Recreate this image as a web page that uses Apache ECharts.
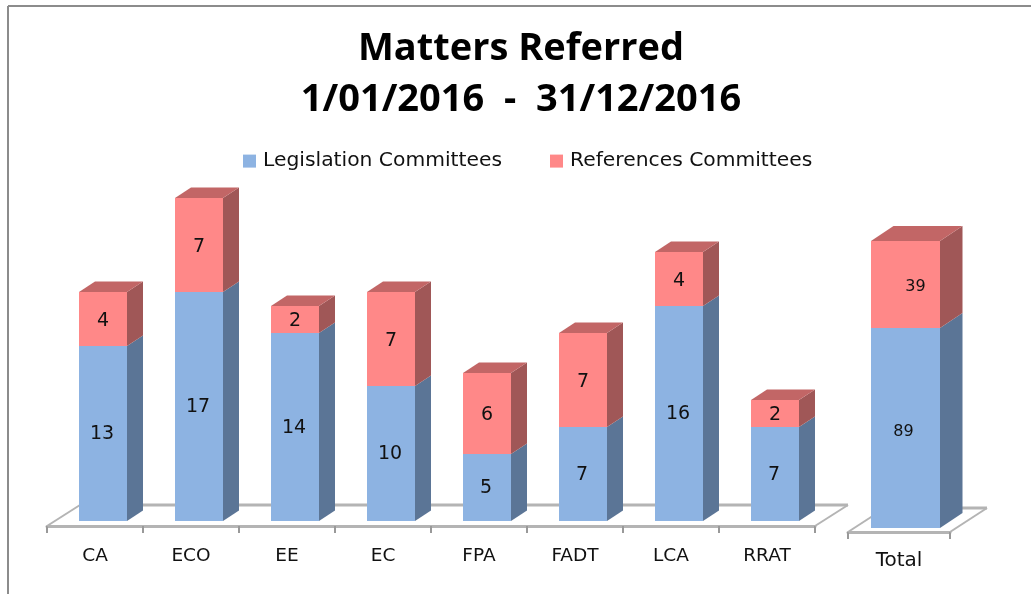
<!DOCTYPE html>
<html style="height: 100%">
<head>
    <script src="https://cdn.jsdelivr.net/npm/echarts@6/dist/echarts.min.js"></script>
</head>
<body style="height: 100%; margin: 0; background: #fff">
    <div id="main" style="width: 1031px; height: 594px"></div>
    <script type="text/javascript">
    var categories = ['CA', 'ECO', 'EE', 'EC', 'FPA', 'FADT', 'LCA', 'RRAT'];
    var legislation = [13, 17, 14, 10, 5, 7, 16, 7];
    var references = [4, 7, 2, 7, 6, 7, 4, 2];
    var totalCategories = ['Total'];
    var totalLegislation = [89];
    var totalReferences = [39];

    var FONT = '"DejaVu Sans", sans-serif';
    var blue = { front: '#8db3e2', side: '#5b7596', top: '#7191b8' };
    var red = { front: '#ff8888', side: '#a05757', top: '#c26666' };

    var chart = echarts.init(document.getElementById('main'));

    // fake 3d column: front face, side face, and a lid on the top segment
    function column3d(cfg, colors, isTop) {
        return function (params, api) {
            var idx = api.value(0);
            var top = api.coord([idx, api.value(2)]);
            var base = api.coord([idx, api.value(1)]);
            var x = top[0] + cfg.shift - cfg.width / 2;
            var x2 = x + cfg.width;
            var y = Math.round(top[1]);
            var y2 = Math.round(base[1]);
            var children = [
                { type: 'polygon', shape: { points: [[x2, y], [x2 + cfg.dx, y - cfg.dy], [x2 + cfg.dx, y2 - cfg.dy], [x2, y2]] }, style: { fill: colors.side } },
                { type: 'rect', shape: { x: x, y: y, width: cfg.width, height: y2 - y }, style: { fill: colors.front } }
            ];
            if (isTop) {
                children.push({ type: 'polygon', shape: { points: [[x, y], [x + cfg.dx, y - cfg.dy], [x2 + cfg.dx, y - cfg.dy], [x2, y]] }, style: { fill: colors.top } });
            }
            children.push({
                type: 'text',
                z2: 10,
                style: {
                    text: String(api.value(3)),
                    x: x + cfg.width / 2 + (isTop ? cfg.labelTop : cfg.labelBottom),
                    y: (y + y2) / 2 + (isTop ? cfg.labelTopY : cfg.labelBottomY),
                    align: 'center',
                    verticalAlign: 'middle',
                    fill: '#111',
                    font: cfg.fontSize + 'px ' + FONT
                }
            });
            return { type: 'group', children: children };
        };
    }

    // the grey floor plate behind the columns
    function floor(cfg, count) {
        return function (params, api) {
            var left = api.coord([0, 0]);
            var right = api.coord([count - 1, 0]);
            var band = api.size([1, 0])[0];
            var x1 = left[0] - band / 2;
            var x2 = right[0] + band / 2;
            var y = left[1] + cfg.axisOffset;
            var line = { stroke: '#b4b4b4', lineWidth: 2, fill: null };
            return {
                type: 'group',
                children: [
                    { type: 'line', shape: { x1: x1, y1: y, x2: x1 + cfg.floorDx, y2: y - cfg.floorDy }, style: line },
                    { type: 'line', shape: { x1: x1 + cfg.floorDx, y1: y - cfg.floorDy, x2: x2 + cfg.floorDx, y2: y - cfg.floorDy }, style: { stroke: '#b4b4b4', lineWidth: 3, fill: null } },
                    { type: 'line', shape: { x1: x2 + cfg.floorDx, y1: y - cfg.floorDy, x2: x2, y2: y }, style: line }
                ]
            };
        };
    }

    var mainCfg = { width: 48, shift: 8, dx: 16, dy: 10.5, fontSize: 19, labelTop: 0, labelBottom: -1, labelTopY: 2, labelBottomY: 1, axisOffset: 5, floorDx: 33, floorDy: 21 };
    var totalCfg = { width: 69, shift: 6.5, dx: 22.5, dy: 15, fontSize: 16, labelTop: 10, labelBottom: -2, labelTopY: 2, labelBottomY: 4, axisOffset: 4, floorDx: 37, floorDy: 24 };

    function stackedSeries(low, high, cfg, gridIdx) {
        var lowData = low.map(function (v, i) { return [i, 0, v, v]; });
        var highData = high.map(function (v, i) { return [i, low[i], low[i] + v, v]; });
        return [
            {
                type: 'custom', name: 'floor' + gridIdx, xAxisIndex: gridIdx, yAxisIndex: gridIdx, z: 1, silent: true,
                renderItem: floor(cfg, low.length), data: [[0]], clip: false
            },
            {
                type: 'custom', name: 'Legislation Committees', xAxisIndex: gridIdx, yAxisIndex: gridIdx, z: 2,
                itemStyle: { color: blue.front }, renderItem: column3d(cfg, blue, false), data: lowData, clip: false
            },
            {
                type: 'custom', name: 'References Committees', xAxisIndex: gridIdx, yAxisIndex: gridIdx, z: 3,
                itemStyle: { color: red.front }, renderItem: column3d(cfg, red, true), data: highData, clip: false
            }
        ];
    }

    function catAxis(data, gridIdx, fontSize, margin) {
        return {
            type: 'category',
            gridIndex: gridIdx,
            data: data,
            axisLine: { show: true, onZero: false, lineStyle: { color: '#b4b4b4', width: 3 } },
            axisTick: { show: true, length: 7, alignWithLabel: false, lineStyle: { color: '#999', width: 2 } },
            axisLabel: { color: '#111', fontFamily: FONT, fontSize: fontSize, margin: margin },
            splitLine: { show: false }
        };
    }

    var option = {
        animation: false,
        backgroundColor: '#fff',
        title: {
            text: 'Matters Referred\n1/01/2016  -  31/12/2016',
            left: 516,
            top: 19,
            textAlign: 'center',
            textStyle: { fontFamily: '"Open Sans", sans-serif', fontWeight: 'bold', fontSize: 38, lineHeight: 51, color: '#000' }
        },
        legend: {
            left: 238,
            top: 136,
            icon: 'rect',
            itemWidth: 13,
            itemHeight: 13,
            itemGap: 48,
            selectedMode: false,
            data: ['Legislation Committees', 'References Committees'],
            textStyle: { fontFamily: FONT, fontSize: 20.3, color: '#111', padding: [0, 0, 0, 2] }
        },
        // grid bottoms sit on the floor's front edge, zero is a few px above it
        grid: [
            { left: 47, width: 768, top: 184.5, height: 341.5 },
            { left: 848, width: 102, top: 236.5, height: 295.5 }
        ],
        xAxis: [
            catAxis(categories, 0, 18.5, 12),
            catAxis(totalCategories, 1, 20, 9)
        ],
        yAxis: [
            { type: 'value', gridIndex: 0, min: -0.37, max: 25, show: false },
            { type: 'value', gridIndex: 1, min: -1.78, max: 130, show: false }
        ],
        series: stackedSeries(legislation, references, mainCfg, 0)
            .concat(stackedSeries(totalLegislation, totalReferences, totalCfg, 1)),
        graphic: [
            { type: 'line', silent: true, shape: { x1: 8, y1: 6, x2: 1031, y2: 6 }, style: { stroke: '#8c8c8c', lineWidth: 2 } },
            { type: 'line', silent: true, shape: { x1: 8, y1: 6, x2: 8, y2: 594 }, style: { stroke: '#8c8c8c', lineWidth: 2 } }
        ]
    };

    chart.setOption(option);
    </script>
</body>
</html>
